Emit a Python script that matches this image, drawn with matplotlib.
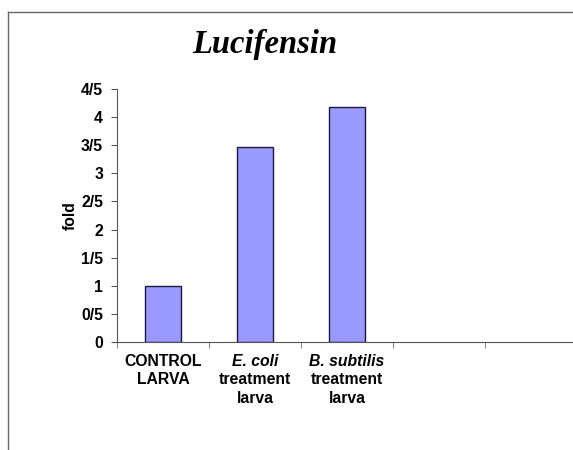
import matplotlib
matplotlib.use("Agg")
import matplotlib.pyplot as plt
from matplotlib.lines import Line2D
import numpy as np

# data
first_line = ["CONTROL", "E. coli", "B. subtilis"]
first_style = ["normal", "italic", "italic"]
other_lines = [["LARVA"], ["treatment", "larva"], ["treatment", "larva"]]
fold = [1.0, 3.46, 4.18]
n_slots = 5
ytick_vals = [0, 0.5, 1, 1.5, 2, 2.5, 3, 3.5, 4, 4.5]
ytick_labels = ["0", "0/5", "1", "1/5", "2", "2/5", "3", "3/5", "4", "4/5"]

plt.rcParams['font.family'] = ['Liberation Sans', 'DejaVu Sans']
fs = 11.3

fig = plt.figure(figsize=(5.73, 4.5), dpi=100)
ax = fig.add_axes([117 / 573, 108 / 450, 460 / 573, 253 / 450])

x = np.arange(len(fold))
ax.bar(x, fold, width=0.4, color='#9999ff', edgecolor='#1a1a40', linewidth=1.0)

ax.set_xlim(-0.5, n_slots - 0.5)
ax.set_ylim(0, 4.5)
ax.set_yticks(ytick_vals)
ax.set_yticklabels(ytick_labels, fontweight='bold', fontsize=fs)
ax.set_xticks(np.arange(n_slots + 1) - 0.5)
ax.set_xticklabels([])
ax.tick_params(axis='y', direction='out', length=4, width=0.8, color='#555555', pad=6)
ax.tick_params(axis='x', direction='out', length=4, width=0.8, color='#888888')
ax.spines['top'].set_visible(False)
ax.spines['right'].set_visible(False)
ax.spines['left'].set_color('#555555')
ax.spines['bottom'].set_color('#555555')
ax.set_ylabel("fold", fontweight='bold', fontsize=fs, labelpad=2)

for i in range(len(first_line)):
    ax.annotate(first_line[i], xy=(i, 0), xycoords=('data', 'axes fraction'),
                xytext=(0, -19 * 0.72), textcoords='offset points',
                ha='center', va='center', fontsize=fs, fontweight='bold',
                fontstyle=first_style[i])
    for j, t in enumerate(other_lines[i]):
        ax.annotate(t, xy=(i, 0), xycoords=('data', 'axes fraction'),
                    xytext=(0, -(38 + 18.5 * j) * 0.72), textcoords='offset points',
                    ha='center', va='center', fontsize=fs, fontweight='bold')

fig.text(265 / 573, 1 - 45 / 450, "Lucifensin", ha='center', va='center',
         fontsize=23.5, fontweight='bold', fontstyle='italic',
         family=['Liberation Serif', 'DejaVu Serif'])

# slide frame
fig.add_artist(Line2D([8 / 573, 1], [1 - 12 / 450, 1 - 12 / 450], color='#666666', lw=1))
fig.add_artist(Line2D([8 / 573, 8 / 573], [0, 1 - 12 / 450], color='#666666', lw=1))

fig.savefig("out.png", dpi=100)
